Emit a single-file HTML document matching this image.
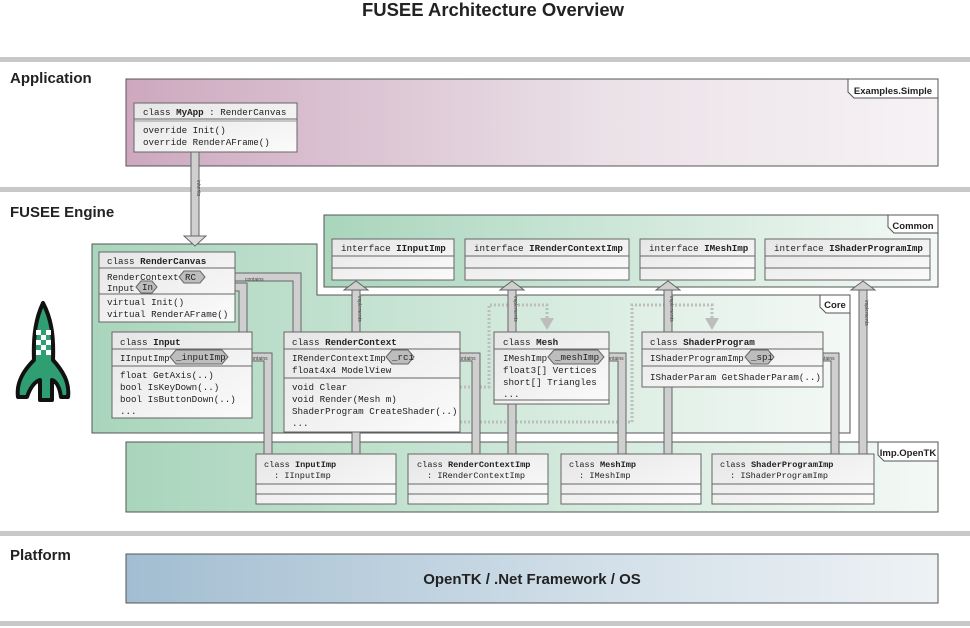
<!DOCTYPE html>
<html><head><meta charset="utf-8"><style>
html,body{margin:0;padding:0;background:#fff;}
svg{display:block;}
.m{font-family:"Liberation Mono",monospace;font-size:9.2px;fill:#222;}
.b{font-weight:bold;}
.h{font-family:"Liberation Sans",sans-serif;font-weight:bold;fill:#222;}
.t{font-family:"Liberation Sans",sans-serif;font-size:5px;fill:#444;}
.tab{font-family:"Liberation Sans",sans-serif;font-size:9.5px;font-weight:bold;fill:#222;}
</style></head><body>
<svg width="970" height="628" viewBox="0 0 970 628" xmlns="http://www.w3.org/2000/svg">
<defs>
<linearGradient id="gp" x1="0" x2="1" y1="0" y2="0"><stop offset="0" stop-color="#cda8bf"/><stop offset="0.6" stop-color="#ebe2e8"/><stop offset="1" stop-color="#f6f2f5"/></linearGradient>
<linearGradient id="gg" x1="0" x2="1" y1="0" y2="0"><stop offset="0" stop-color="#a9d5bc"/><stop offset="0.6" stop-color="#d6ebdf"/><stop offset="1" stop-color="#f4f9f6"/></linearGradient>
<linearGradient id="gb" x1="0" x2="1" y1="0" y2="0"><stop offset="0" stop-color="#a2bdd1"/><stop offset="0.6" stop-color="#d3e0e9"/><stop offset="1" stop-color="#eef2f5"/></linearGradient>
<linearGradient id="gc" x1="0" x2="1" y1="0" y2="1"><stop offset="0" stop-color="#e6e6e6"/><stop offset="1" stop-color="#fbfbfb"/></linearGradient>
</defs>

<text x="493" y="16" text-anchor="middle" class="h" font-size="18" textLength="262" lengthAdjust="spacingAndGlyphs">FUSEE Architecture Overview</text>
<rect x="0" y="57" width="970" height="5" fill="#c8c8c8"/>
<rect x="0" y="187" width="970" height="5" fill="#c8c8c8"/>
<rect x="0" y="531" width="970" height="5" fill="#c8c8c8"/>
<rect x="0" y="621" width="970" height="5" fill="#c8c8c8"/>

<text x="10" y="83" class="h" font-size="15">Application</text>
<text x="10" y="217" class="h" font-size="15">FUSEE Engine</text>
<text x="10" y="560" class="h" font-size="15">Platform</text>

<rect x="126" y="79" width="812" height="87" fill="url(#gp)" stroke="#555"/>
<polygon points="848,79 938,79 938,98 854,98 848,92" fill="#fff" stroke="#555"/>
<text x="893" y="94" text-anchor="middle" class="tab">Examples.Simple</text>

<rect x="126" y="554" width="812" height="49" fill="url(#gb)" stroke="#555"/>
<text x="532" y="584" text-anchor="middle" class="h" font-size="15">OpenTK / .Net Framework / OS</text>

<rect x="324" y="215" width="614" height="72" fill="url(#gg)" stroke="#555"/>
<polygon points="888,215 938,215 938,233 894,233 888,227" fill="#fff" stroke="#555"/>
<text x="913" y="229" text-anchor="middle" class="tab">Common</text>

<polygon points="92,244 317,244 317,295 850,295 850,433 92,433" fill="url(#gg)" stroke="#555"/>
<polygon points="820,295 850,295 850,313 826,313 820,307" fill="#fff" stroke="#555"/>
<text x="835" y="308" text-anchor="middle" class="tab">Core</text>

<rect x="126" y="442" width="812" height="70" fill="url(#gg)" stroke="#555"/>
<polygon points="878,442 938,442 938,461 884,461 878,455" fill="#fff" stroke="#555"/>
<text x="908" y="456" text-anchor="middle" class="tab">Imp.OpenTK</text>

<rect x="191" y="152" width="8" height="85" fill="#cfcfcf" stroke="#666"/>
<polygon points="184,236 206,236 195,246" fill="#ddd" stroke="#666"/>
<text transform="translate(197,180) rotate(90)" class="t">inherits</text>

<g fill="none" stroke="#bdbdbd" stroke-width="3" stroke-dasharray="2,2">
<path d="M368,387 H489 V305 H547 V318"/>
<path d="M320,422 H632 V305 H712 V318"/>
</g>
<polygon points="540,318 554,318 547,330" fill="#bdbdbd"/>
<polygon points="705,318 719,318 712,330" fill="#bdbdbd"/>

<g fill="#cfcfcf" stroke="#666">
<rect x="352" y="289" width="8" height="166"/>
<rect x="508" y="289" width="8" height="166"/>
<rect x="664" y="289" width="8" height="166"/>
<rect x="859" y="289" width="8" height="166"/>
<polygon points="344,290 368,290 356,281"/>
<polygon points="500,290 524,290 512,281"/>
<polygon points="656,290 680,290 668,281"/>
<polygon points="851,290 875,290 863,281"/>
</g>
<text transform="translate(358,296) rotate(90)" class="t">implements</text>
<text transform="translate(514,296) rotate(90)" class="t">implements</text>
<text transform="translate(670,296) rotate(90)" class="t">implements</text>
<text transform="translate(865,300) rotate(90)" class="t">implements</text>

<g fill="none" stroke-linejoin="miter">
<path d="M200,277 H297 V332" stroke="#666" stroke-width="9"/>
<path d="M200,277 H297 V332" stroke="#cfcfcf" stroke-width="7"/>
<path d="M150,287 H243 V332" stroke="#666" stroke-width="9"/>
<path d="M150,287 H243 V332" stroke="#cfcfcf" stroke-width="7"/>
<path d="M220,357 H268 V455" stroke="#666" stroke-width="9"/>
<path d="M220,357 H268 V455" stroke="#cfcfcf" stroke-width="7"/>
<path d="M410,357 H476 V455" stroke="#666" stroke-width="9"/>
<path d="M410,357 H476 V455" stroke="#cfcfcf" stroke-width="7"/>
<path d="M600,357 H622 V455" stroke="#666" stroke-width="9"/>
<path d="M600,357 H622 V455" stroke="#cfcfcf" stroke-width="7"/>
<path d="M770,357 H835 V455" stroke="#666" stroke-width="9"/>
<path d="M770,357 H835 V455" stroke="#cfcfcf" stroke-width="7"/>
</g>
<g class="t">
<text x="245" y="281">contains</text>
<text x="213" y="290">contains</text>
<text x="249" y="360">contains</text>
<text x="457" y="360">contains</text>
<text x="605" y="360">contains</text>
<text x="816" y="360">contains</text>
</g>

<rect x="134" y="103" width="163" height="49" fill="url(#gc)" stroke="#666"/>
<line x1="134" y1="119" x2="297" y2="119" stroke="#666"/><line x1="134" y1="121" x2="297" y2="121" stroke="#999"/>
<text x="143" y="115" class="m">class <tspan class="b">MyApp</tspan> : RenderCanvas</text>
<text x="143" y="133" class="m">override Init()</text>
<text x="143" y="145" class="m">override RenderAFrame()</text>

<g fill="url(#gc)" stroke="#666">
<rect x="332" y="239" width="122" height="41"/>
<rect x="465" y="239" width="164" height="41"/>
<rect x="640" y="239" width="115" height="41"/>
<rect x="765" y="239" width="165" height="41"/>
</g>
<g stroke="#666">
<path d="M332,256H454M332,268H454M465,256H629M465,268H629M640,256H755M640,268H755M765,256H930M765,268H930"/>
</g>
<text x="341" y="251" class="m">interface <tspan class="b">IInputImp</tspan></text>
<text x="474" y="251" class="m">interface <tspan class="b">IRenderContextImp</tspan></text>
<text x="649" y="251" class="m">interface <tspan class="b">IMeshImp</tspan></text>
<text x="774" y="251" class="m">interface <tspan class="b">IShaderProgramImp</tspan></text>

<rect x="99" y="252" width="136" height="70" fill="url(#gc)" stroke="#666"/>
<path d="M99,268H235M99,294H235" stroke="#666"/>
<text x="107" y="264" class="m">class <tspan class="b">RenderCanvas</tspan></text>
<text x="107" y="280" class="m">RenderContext</text>
<text x="107" y="291" class="m">Input</text>
<text x="107" y="305" class="m">virtual Init()</text>
<text x="107" y="317" class="m">virtual RenderAFrame()</text>

<rect x="112" y="332" width="140" height="86" fill="url(#gc)" stroke="#666"/>
<path d="M112,349H252M112,366H252" stroke="#666"/>
<text x="120" y="345" class="m">class <tspan class="b">Input</tspan></text>
<text x="120" y="361" class="m">IInputImp</text>
<text x="120" y="378" class="m">float GetAxis(..)</text>
<text x="120" y="390" class="m">bool IsKeyDown(..)</text>
<text x="120" y="402" class="m">bool IsButtonDown(..)</text>
<text x="120" y="414" class="m">...</text>

<rect x="284" y="332" width="176" height="100" fill="url(#gc)" stroke="#666"/>
<path d="M284,349H460M284,378H460" stroke="#666"/>
<text x="292" y="345" class="m">class <tspan class="b">RenderContext</tspan></text>
<text x="292" y="361" class="m">IRenderContextImp</text>
<text x="292" y="373" class="m">float4x4 ModelView</text>
<text x="292" y="390" class="m">void Clear</text>
<text x="292" y="402" class="m">void Render(Mesh m)</text>
<text x="292" y="414" class="m">ShaderProgram CreateShader(..)</text>
<text x="292" y="426" class="m">...</text>

<rect x="494" y="332" width="115" height="72" fill="url(#gc)" stroke="#666"/>
<path d="M494,349H609M494,400H609" stroke="#666"/>
<text x="503" y="345" class="m">class <tspan class="b">Mesh</tspan></text>
<text x="503" y="361" class="m">IMeshImp</text>
<text x="503" y="373" class="m">float3[] Vertices</text>
<text x="503" y="385" class="m">short[] Triangles</text>
<text x="503" y="397" class="m">...</text>

<rect x="642" y="332" width="181" height="55" fill="url(#gc)" stroke="#666"/>
<path d="M642,349H823M642,366H823" stroke="#666"/>
<text x="650" y="345" class="m">class <tspan class="b">ShaderProgram</tspan></text>
<text x="650" y="361" class="m">IShaderProgramImp</text>
<text x="650" y="380" class="m">IShaderParam GetShaderParam(..)</text>

<g fill="#bdbdbd" stroke="#666">
<polygon points="179,277 184,271 200,271 205,277 200,283 184,283"/>
<polygon points="136,287 141,281 152,281 157,287 152,293 141,293"/>
<polygon points="170,357 176,350 222,350 228,357 222,364 176,364"/>
<polygon points="386,357 392,350 408,350 414,357 408,364 392,364"/>
<polygon points="548,357 554,350 598,350 604,357 598,364 554,364"/>
<polygon points="745,357 751,350 768,350 774,357 768,364 751,364"/>
</g>
<text x="185" y="280" class="m">RC</text>
<text x="142" y="290" class="m">In</text>
<text x="176" y="360" class="m">_inputImp</text>
<text x="392" y="360" class="m">_rci</text>
<text x="555" y="360" class="m">_meshImp</text>
<text x="751" y="360" class="m">_spi</text>

<g fill="url(#gc)" stroke="#666">
<rect x="256" y="454" width="140" height="50"/>
<rect x="408" y="454" width="140" height="50"/>
<rect x="561" y="454" width="140" height="50"/>
<rect x="712" y="454" width="162" height="50"/>
</g>
<path d="M256,484H396M256,494H396M408,484H548M408,494H548M561,484H701M561,494H701M712,484H874M712,494H874" stroke="#666"/>
<g class="m" style="font-size:8.6px">
<text x="264" y="467">class <tspan class="b">InputImp</tspan></text>
<text x="274" y="478">: IInputImp</text>
<text x="417" y="467">class <tspan class="b">RenderContextImp</tspan></text>
<text x="427" y="478">: IRenderContextImp</text>
<text x="569" y="467">class <tspan class="b">MeshImp</tspan></text>
<text x="579" y="478">: IMeshImp</text>
<text x="720" y="467">class <tspan class="b">ShaderProgramImp</tspan></text>
<text x="730" y="478">: IShaderProgramImp</text>
</g>

<g stroke="#111" stroke-width="4" stroke-linejoin="round">
<path d="M43,303 C36,318 33,335 34,360 C24,370 16,382 18,397 L27,397 C30,388 34,382 40,380 L40,400 L52,400 L52,380 C58,382 60,390 61,397 L68,397 C70,382 62,370 53,360 C54,335 51,318 43,303 Z" fill="#2f9e72"/>
</g>
<g fill="#fff">
<rect x="36" y="330" width="5" height="5"/><rect x="46" y="330" width="5" height="5"/>
<rect x="41" y="335" width="5" height="5"/>
<rect x="36" y="340" width="5" height="5"/><rect x="46" y="340" width="5" height="5"/>
<rect x="41" y="345" width="5" height="5"/>
<rect x="36" y="350" width="5" height="5"/><rect x="46" y="350" width="5" height="5"/>
</g>
</svg>
</body></html>
